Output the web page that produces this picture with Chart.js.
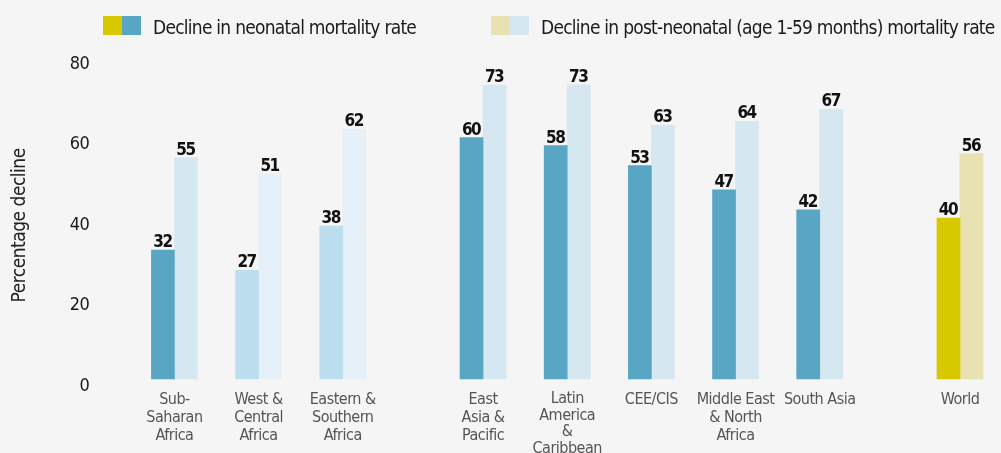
<!DOCTYPE html>
<html>
<head>
<meta charset="utf-8">
<script src="https://cdn.jsdelivr.net/npm/chart.js@4.4.1/dist/chart.umd.min.js"></script>
<style>
  html, body { margin: 0; padding: 0; background: #f5f5f5; }
  #wrap { width: 1001px; height: 453px; position: relative; }
  canvas { display: block; }
</style>
</head>
<body>
<div id="wrap"><canvas id="c" width="1001" height="453"></canvas></div>
<script>
// ---------- DATA ----------
const categories = [
  ["Sub-", "Saharan", "Africa"],
  ["West &", "Central", "Africa"],
  ["Eastern &", "Southern", "Africa"],
  ["East", "Asia &", "Pacific"],
  ["Latin", "America", "&", "Caribbean"],
  ["CEE/CIS"],
  ["Middle East", "& North", "Africa"],
  ["South Asia"],
  ["World"]
];
const neonatal = [32, 27, 38, 60, 58, 53, 47, 42, 40];
const postNeonatal = [55, 51, 62, 73, 73, 63, 64, 67, 56];
const yTickValues = [0, 20, 40, 60, 80];
const seriesNames = [
  "Decline in neonatal mortality rate",
  "Decline in post-neonatal (age 1-59 months) mortality rate"
];
const yTitle = "Percentage decline";

// ---------- STYLE ----------
const FONT = '"DejaVu Sans Condensed", "DejaVu Sans", sans-serif';
const DARK = '#59a5c4', LIGHT = '#d5e7f0';
const SUB_DARK = '#bcdeee', SUB_LIGHT = '#e6f0f8';
const YEL = '#d7c800', TAN = '#e8e1b1';
const neoColors = [DARK, SUB_DARK, SUB_DARK, DARK, DARK, DARK, DARK, DARK, YEL];
const postColors = [LIGHT, SUB_LIGHT, SUB_LIGHT, LIGHT, LIGHT, LIGHT, LIGHT, LIGHT, TAN];
// layout: slot step between groups (wider gap before East Asia and before World)
const slotStep = [3, 3, 5, 3, 3, 3, 3, 5];

// build slot-based arrays
const slotIndex = [0];
for (let i = 0; i < slotStep.length; i++) slotIndex.push(slotIndex[i] + slotStep[i]);
const nSlots = slotIndex[slotIndex.length - 1] + 1;
const labels = Array.from({length: nSlots}, () => '');
const neoData = Array(nSlots).fill(null), postData = Array(nSlots).fill(null);
const neoBg = Array(nSlots).fill(DARK), postBg = Array(nSlots).fill(LIGHT);
categories.forEach((c, i) => {
  const s = slotIndex[i];
  labels[s] = c;
  neoData[s] = neonatal[i];
  postData[s] = postNeonatal[i];
  neoBg[s] = neoColors[i];
  postBg[s] = postColors[i];
});

const tightText = {
  id: 'tightText',
  beforeLayout(chart) { chart.ctx.letterSpacing = '-0.5px'; },
  beforeDraw(chart) { chart.ctx.letterSpacing = '-0.5px'; }
};

const valueLabels = {
  id: 'valueLabels',
  afterDatasetsDraw(chart) {
    const ctx = chart.ctx;
    ctx.save();
    ctx.font = 'bold 17px ' + FONT;
    ctx.letterSpacing = '-1.5px';
    ctx.fillStyle = '#111';
    ctx.textAlign = 'center';
    ctx.textBaseline = 'alphabetic';
    chart.data.datasets.forEach((ds, di) => {
      const meta = chart.getDatasetMeta(di);
      meta.data.forEach((el, i) => {
        const v = ds.data[i];
        if (v === null || v === undefined) return;
        ctx.fillText(String(v), el.x - 0.5, el.y - 3);
      });
    });
    ctx.restore();
  }
};

const customLegend = {
  id: 'customLegend',
  afterDraw(chart) {
    const ctx = chart.ctx;
    const items = [
      {x: 103, colors: [YEL, DARK], text: seriesNames[0]},
      {x: 491, colors: [TAN, LIGHT], text: seriesNames[1]}
    ];
    ctx.save();
    ctx.font = '19px ' + FONT;
    ctx.letterSpacing = '-0.75px';
    ctx.textBaseline = 'alphabetic';
    items.forEach(it => {
      ctx.fillStyle = it.colors[0];
      ctx.fillRect(it.x, 16, 19, 19);
      ctx.fillStyle = it.colors[1];
      ctx.fillRect(it.x + 19, 16, 19, 19);
      ctx.fillStyle = '#1a1a1a';
      ctx.fillText(it.text, it.x + 50, 34);
    });
    ctx.restore();
  }
};

function draw() {
  new Chart(document.getElementById('c'), {
    type: 'bar',
    data: {
      labels: labels,
      datasets: [
        {label: seriesNames[0], data: neoData, backgroundColor: neoBg, borderWidth: 0, barThickness: 23, clip: false},
        {label: seriesNames[1], data: postData, backgroundColor: postBg, borderWidth: 0, barThickness: 23, clip: false}
      ]
    },
    options: {
      responsive: false,
      animation: false,
      devicePixelRatio: 1,
      layout: {padding: {top: 57, right: 27, left: 0, bottom: 0}},
      plugins: {legend: {display: false}, tooltip: {enabled: false}},
      scales: {
        x: {
          grid: {display: false, drawTicks: false},
          border: {display: false},
          ticks: {
            autoSkip: false, maxRotation: 0, minRotation: 0, padding: 12,
            color: '#555',
            font: (c) => {
              const l = labels[c.index];
              const lines = Array.isArray(l) ? l.length : 1;
              return {family: FONT, size: 16, lineHeight: lines > 3 ? 16.5 / 16 : 1.125};
            }
          },
          afterFit(s) { s.height = 74; s.paddingLeft = 0; s.paddingRight = 0; }
        },
        y: {
          min: 0, max: 80,
          afterBuildTicks(s) { s.ticks = yTickValues.map(v => ({value: v})); },
          grid: {display: false, drawTicks: false},
          border: {display: false},
          ticks: {
            padding: 71, labelOffset: 7,
            color: '#1a1a1a',
            font: {family: FONT, size: 18}
          },
          title: {
            display: true, text: yTitle + '   ', color: '#222',
            font: {family: FONT, size: 19},
            padding: {top: 9, bottom: 0}
          },
          afterFit(s) { s.width = 160.4; s.paddingTop = 0; s.paddingBottom = 0; }
        }
      }
    },
    plugins: [tightText, valueLabels, customLegend]
  });
}

draw();
</script>
</body>
</html>
